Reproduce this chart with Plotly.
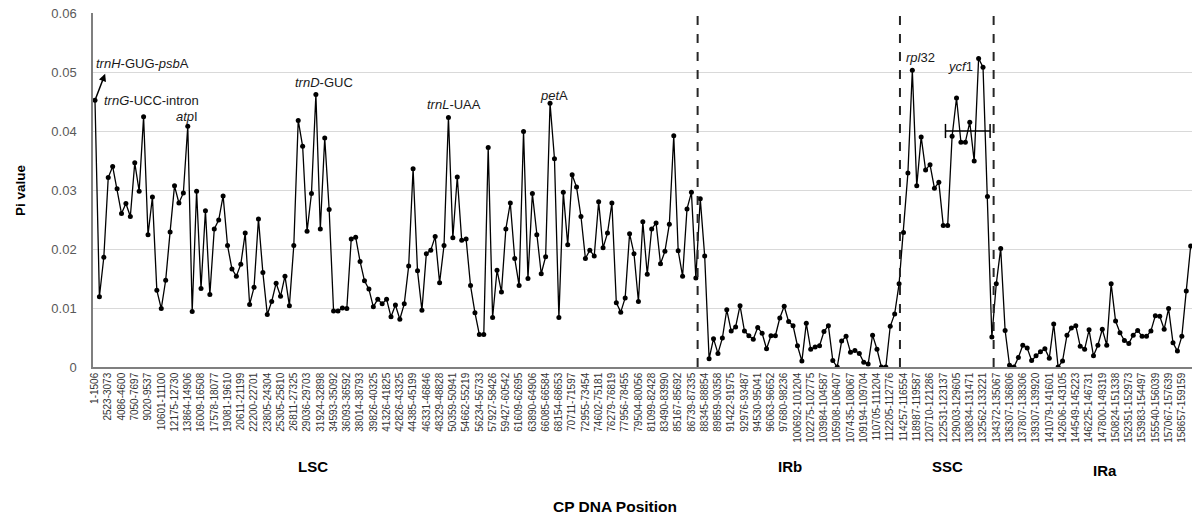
import plotly.graph_objects as go

# ---- data ----
tick_labels = [
    "1-1506", "2523-3073", "4086-4600", "7050-7697", "9020-9537", "10601-11100",
    "12175-12730", "13864-14906", "16009-16508", "17578-18077", "19081-19610",
    "20611-21199", "22200-22701", "23805-24304", "25305-25810", "26811-27325",
    "29036-29703", "31924-32898", "34593-35092", "36093-36592", "38014-38793",
    "39826-40325", "41326-41825", "42826-43325", "44385-45199", "46331-46846",
    "48329-48828", "50359-50941", "54662-55219", "56234-56733", "57927-58426",
    "59427-60542", "61609-62695", "63890-64906", "66085-66584", "68154-68653",
    "70711-71597", "72955-73454", "74602-75181", "76279-76819", "77956-78455",
    "79504-80056", "81099-82428", "83490-83990", "85167-85692", "86739-87335",
    "88345-88854", "89859-90358", "91422-91975", "92976-93487", "94530-95041",
    "96063-96652", "97680-98236", "100692-101204", "102275-102775", "103984-104587",
    "105908-106407", "107435-108067", "109194-109704", "110705-111204", "112205-112776",
    "114257-116554", "118987-119587", "120710-121286", "122531-123137", "129003-129605",
    "130834-131471", "132562-133221",
    "134372-135067", "136307-136806", "137807-138306", "139307-139920", "141079-141601",
    "142606-143105", "144549-145223", "146225-146731", "147800-149319", "150824-151338",
    "152351-152973", "153983-154497", "155540-156039", "157067-157639", "158657-159159",
]
label_step = 3

pi_values = [
    0.0452, 0.0119, 0.0186, 0.0321, 0.0340, 0.0302, 0.0260, 0.0277, 0.0255, 0.0346,
    0.0298, 0.0424, 0.0224, 0.0288, 0.0130, 0.0099, 0.0147, 0.0229, 0.0307, 0.0278,
    0.0295, 0.0408, 0.0094, 0.0298, 0.0133, 0.0265, 0.0123, 0.0234, 0.0249, 0.0290,
    0.0206, 0.0166, 0.0154, 0.0174, 0.0227, 0.0106, 0.0135, 0.0251, 0.0160, 0.0089,
    0.0111, 0.0142, 0.0120, 0.0154, 0.0104, 0.0206, 0.0418, 0.0374, 0.0230, 0.0294,
    0.0462, 0.0234, 0.0388, 0.0267, 0.0095, 0.0095, 0.0100, 0.0099, 0.0217, 0.0220,
    0.0179, 0.0146, 0.0132, 0.0102, 0.0115, 0.0107, 0.0115, 0.0085, 0.0105, 0.0081,
    0.0107, 0.0171, 0.0336, 0.0163, 0.0096, 0.0192, 0.0198, 0.0221, 0.0143, 0.0206,
    0.0423, 0.0219, 0.0322, 0.0215, 0.0217, 0.0138, 0.0092, 0.0055, 0.0055, 0.0372,
    0.0084, 0.0164, 0.0127, 0.0234, 0.0278, 0.0184, 0.0138, 0.0399, 0.0150, 0.0294,
    0.0224, 0.0158, 0.0187, 0.0447, 0.0353, 0.0084, 0.0296, 0.0207, 0.0326, 0.0305,
    0.0255, 0.0184, 0.0198, 0.0188, 0.0280, 0.0202, 0.0227, 0.0278, 0.0109, 0.0093,
    0.0117, 0.0226, 0.0192, 0.0111, 0.0246, 0.0157, 0.0234, 0.0244, 0.0175, 0.0196,
    0.0242, 0.0392, 0.0197, 0.0154, 0.0268, 0.0296, 0.0151, 0.0285, 0.0188, 0.0014,
    0.0048, 0.0023, 0.0049, 0.0097, 0.0061, 0.0068, 0.0104, 0.0061, 0.0053, 0.0047,
    0.0067, 0.0057, 0.0031, 0.0053, 0.0053, 0.0083, 0.0103, 0.0077, 0.0070, 0.0036,
    0.0010, 0.0074, 0.0030, 0.0034, 0.0036, 0.0060, 0.0070, 0.0011, 0.0000, 0.0044,
    0.0052, 0.0025, 0.0028, 0.0023, 0.0008, 0.0005, 0.0054, 0.0030, 0.0000, 0.0000,
    0.0069, 0.0090, 0.0141, 0.0228, 0.0329, 0.0503, 0.0307, 0.0390, 0.0334, 0.0343,
    0.0303, 0.0313, 0.0240, 0.0240, 0.0391, 0.0456, 0.0381, 0.0381, 0.0415, 0.0349,
    0.0523, 0.0508, 0.0289, 0.0051, 0.0141, 0.0201, 0.0062, 0.0003, 0.0000, 0.0016,
    0.0037, 0.0032, 0.0011, 0.0019, 0.0026, 0.0031, 0.0015, 0.0073, 0.0000, 0.0010,
    0.0054, 0.0066, 0.0070, 0.0035, 0.0030, 0.0063, 0.0019, 0.0037, 0.0064, 0.0037,
    0.0141, 0.0078, 0.0058, 0.0045, 0.0040, 0.0054, 0.0062, 0.0052, 0.0052, 0.0061,
    0.0087, 0.0086, 0.0064, 0.0099, 0.0041, 0.0027, 0.0052, 0.0129, 0.0205,
]

# region boundaries (window index) and region names
boundaries = [136.4, 182.2, 203.4]
region_names = ["LSC", "IRb", "SSC", "IRa"]
region_centers = [49.3, 157.3, 193.0, 228.6]
region_y = [-0.311, -0.311, -0.311, -0.322]

# gene labels: (html text, window index, pi)
gene_labels = [
    ("<i>trnG</i>-UCC-intron", 12.8, 0.0451),
    ("<i>atp</i>I", 20.8, 0.0424),
    ("<i>trnD</i>-GUC", 51.9, 0.0482),
    ("<i>trnL</i>-UAA", 81.3, 0.0445),
    ("<i>pet</i>A", 104.0, 0.0461),
    ("<i>rpl</i>32", 186.9, 0.0525),
    ("<i>ycf</i>1", 195.8, 0.0509),
]

x_idx = list(range(len(pi_values)))
tickvals = [i * label_step for i in range(len(tick_labels))]

FONT = "Liberation Sans, Arial, sans-serif"

fig = go.Figure()
fig.add_trace(go.Scatter(
    x=x_idx, y=pi_values, mode="lines+markers",
    line=dict(color="#000000", width=1.3),
    marker=dict(color="#000000", size=5),
    showlegend=False, hoverinfo="skip",
))

shapes = []
for b in boundaries:
    shapes.append(dict(type="line", xref="x", yref="paper", x0=b, x1=b, y0=0, y1=1,
                       line=dict(color="#262626", width=2, dash="dash")))
# ycf1 bracket
shapes.append(dict(type="line", xref="x", yref="y", x0=192.5, x1=202.6, y0=0.040, y1=0.040,
                   line=dict(color="#000000", width=1.5)))
for bx in (192.5, 202.6):
    shapes.append(dict(type="line", xref="x", yref="y", x0=bx, x1=bx, y0=0.0388, y1=0.0412,
                       line=dict(color="#000000", width=1.5)))

annotations = []
# trnH-GUG-psbA with arrow
annotations.append(dict(x=10.75, y=0.0515, xref="x", yref="y", text="<i>trnH</i>-GUG-<i>psb</i>A",
                        showarrow=False, font=dict(family=FONT, size=13, color="#1a1a1a")))
annotations.append(dict(x=2.3, y=0.0497, xref="x", yref="y", ax=0, ay=0.0452, axref="x", ayref="y",
                        text="", showarrow=True, arrowhead=2, arrowsize=1, arrowwidth=1.5,
                        arrowcolor="#000000"))
for txt, gx, gy in gene_labels:
    annotations.append(dict(x=gx, y=gy, xref="x", yref="y", text=txt, showarrow=False,
                            font=dict(family=FONT, size=13, color="#1a1a1a")))
for name, cx, ry in zip(region_names, region_centers, region_y):
    annotations.append(dict(x=cx, y=ry, xref="x", yref="paper", text="<b>%s</b>" % name,
                            showarrow=False, font=dict(family=FONT, size=15, color="#000000")))
annotations.append(dict(x=0.475, y=-0.424, xref="paper", yref="paper", text="<b>CP DNA Position</b>",
                        showarrow=False, font=dict(family=FONT, size=15.5, color="#000000")))
annotations.append(dict(x=-0.075, y=0.5, xref="paper", yref="paper", text="<b>Pi value</b>",
                        textangle=-90, showarrow=False, font=dict(family=FONT, size=13.5, color="#000000")))

fig.update_layout(
    width=1192, height=517,
    margin=dict(l=93, r=0, t=13, b=150, autoexpand=False),
    plot_bgcolor="white", paper_bgcolor="white",
    shapes=shapes, annotations=annotations,
    font=dict(family=FONT),
    xaxis=dict(range=[-0.45, 248.3], tickmode="array", tickvals=tickvals, ticktext=tick_labels,
               tickangle=-90, tickfont=dict(family=FONT, size=10, color="#333333"),
               showgrid=False, zeroline=False, showline=True, linecolor="#7f7f7f", linewidth=1.5,
               ticks="", automargin=False),
    yaxis=dict(range=[0, 0.06], dtick=0.01, tickfont=dict(family=FONT, size=13, color="#595959"),
               showgrid=True, gridcolor="#d9d9d9", gridwidth=1, zeroline=False,
               showline=True, linecolor="#7f7f7f", linewidth=1.5, ticks="", automargin=False,
               ticklabelstandoff=12),
)

fig.write_html("out.html", config={"displayModeBar": False},
               post_script="document.body.style.margin='0';document.body.style.overflow='hidden';")
